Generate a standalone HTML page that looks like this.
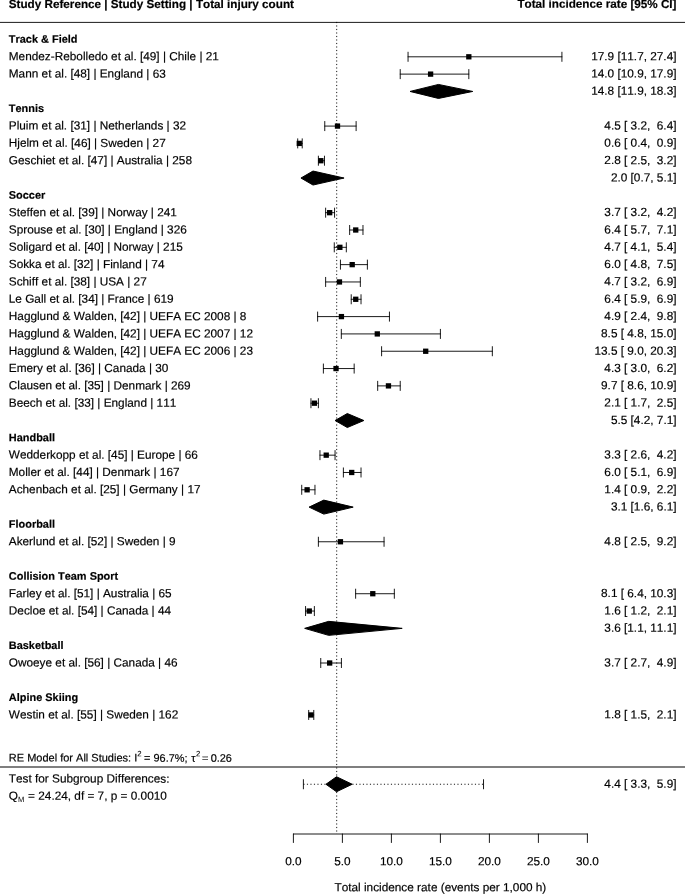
<!DOCTYPE html>
<html><head><meta charset="utf-8"><title>Forest plot</title>
<style>html,body{margin:0;padding:0;background:#fff}svg{display:block}text{font-family:"Liberation Sans",Arial,Helvetica,sans-serif;font-size:11.8px;fill:#000;stroke:#000;stroke-width:.18px;white-space:pre;font-kerning:none}.r{font-size:11.8px}.b{font-weight:bold;font-size:11.7px}.g{font-weight:bold;font-size:10.95px}.r{text-anchor:end}.m{text-anchor:middle}.l{stroke:#000;stroke-width:.9;fill:none;stroke-linecap:round}.dt{stroke-dasharray:1.16 2.34;stroke-linecap:butt}.hl{stroke:#000;stroke-width:1.05;fill:none}.d{stroke:#000;stroke-width:1;stroke-linejoin:round}</style></head><body>
<svg width="685" height="894" viewBox="0 0 685 894">
<rect width="685" height="894" fill="#fff"/>
<text class="b" x="8.8" y="7.9" transform="rotate(.03 8.8 7.9)">Study Reference | Study Setting | Total injury count</text>
<text class="b r" x="676.5" y="7.9" transform="rotate(.03 676.5 7.9)">Total incidence rate [95% CI]</text>
<path class="hl" style="stroke-width:.9" d="M0 22.4H685"/>
<path class="l dt" d="M336.7 21.92V834"/>
<text class="g" x="8.8" y="42.78" transform="rotate(.03 8.8 42.78)">Track &amp; Field</text>
<text x="8.8" y="60.25" transform="rotate(.03 8.8 60.25)">Mendez-Rebolledo et al. [49] | Chile | 21</text>
<text class="r" x="676.5" y="60.25" xml:space="preserve" transform="rotate(.03 676.5 60.25)">17.9 [11.7, 27.4]</text>
<path class="l" d="M408.06 56.8H561.92M408.06 52.2V61.4M561.92 52.2V61.4"/>
<rect x="466.17" y="54.15" width="5.3" height="5.3"/>
<text x="8.8" y="77.57" transform="rotate(.03 8.8 77.57)">Mann et al. [48] | England | 63</text>
<text class="r" x="676.5" y="77.57" xml:space="preserve" transform="rotate(.03 676.5 77.57)">14.0 [10.9, 17.9]</text>
<path class="l" d="M400.22 74.12H468.82M400.22 69.52V78.72M468.82 69.52V78.72"/>
<rect x="427.95" y="71.47" width="5.3" height="5.3"/>
<text class="r" x="676.5" y="94.89" transform="rotate(.03 676.5 94.89)">14.8 [11.9, 18.3]</text>
<path class="d" d="M410.02 91.44L438.44 84.44L472.74 91.44L438.44 98.44Z"/>
<text class="g" x="8.8" y="112.06" transform="rotate(.03 8.8 112.06)">Tennis</text>
<text x="8.8" y="129.53" transform="rotate(.03 8.8 129.53)">Pluim et al. [31] | Netherlands | 32</text>
<text class="r" x="676.5" y="129.53" xml:space="preserve" transform="rotate(.03 676.5 129.53)">4.5 [ 3.2,  6.4]</text>
<path class="l" d="M324.76 126.08H356.12M324.76 121.48V130.68M356.12 121.48V130.68"/>
<rect x="334.85" y="123.43" width="5.3" height="5.3"/>
<text x="8.8" y="146.85" transform="rotate(.03 8.8 146.85)">Hjelm et al. [46] | Sweden | 27</text>
<text class="r" x="676.5" y="146.85" xml:space="preserve" transform="rotate(.03 676.5 146.85)">0.6 [ 0.4,  0.9]</text>
<path class="l" d="M297.71 143.4H302.22M297.71 138.8V148M302.22 138.8V148"/>
<rect x="296.63" y="140.75" width="5.3" height="5.3"/>
<text x="8.8" y="164.17" transform="rotate(.03 8.8 164.17)">Geschiet et al. [47] | Australia | 258</text>
<text class="r" x="676.5" y="164.17" xml:space="preserve" transform="rotate(.03 676.5 164.17)">2.8 [ 2.5,  3.2]</text>
<path class="l" d="M318.39 160.72H324.47M318.39 156.12V165.32M324.47 156.12V165.32"/>
<rect x="318.19" y="158.07" width="5.3" height="5.3"/>
<text class="r" x="676.5" y="181.49" transform="rotate(.03 676.5 181.49)">2.0 [0.7, 5.1]</text>
<path class="d" d="M300.95 178.04L313 171.04L344.07 178.04L313 185.04Z"/>
<text class="g" x="8.8" y="198.66" transform="rotate(.03 8.8 198.66)">Soccer</text>
<text x="8.8" y="216.13" transform="rotate(.03 8.8 216.13)">Steffen et al. [39] | Norway | 241</text>
<text class="r" x="676.5" y="216.13" xml:space="preserve" transform="rotate(.03 676.5 216.13)">3.7 [ 3.2,  4.2]</text>
<path class="l" d="M325.64 212.68H334.56M325.64 208.08V217.28M334.56 208.08V217.28"/>
<rect x="327.01" y="210.03" width="5.3" height="5.3"/>
<text x="8.8" y="233.45" transform="rotate(.03 8.8 233.45)">Sprouse et al. [30] | England | 326</text>
<text class="r" x="676.5" y="233.45" xml:space="preserve" transform="rotate(.03 676.5 233.45)">6.4 [ 5.7,  7.1]</text>
<path class="l" d="M349.65 230H362.98M349.65 225.4V234.6M362.98 225.4V234.6"/>
<rect x="353.08" y="227.35" width="5.3" height="5.3"/>
<text x="8.8" y="250.77" transform="rotate(.03 8.8 250.77)">Soligard et al. [40] | Norway | 215</text>
<text class="r" x="676.5" y="250.77" xml:space="preserve" transform="rotate(.03 676.5 250.77)">4.7 [ 4.1,  5.4]</text>
<path class="l" d="M334.27 247.32H346.32M334.27 242.72V251.92M346.32 242.72V251.92"/>
<rect x="337.2" y="244.67" width="5.3" height="5.3"/>
<text x="8.8" y="268.09" transform="rotate(.03 8.8 268.09)">Sokka et al. [32] | Finland | 74</text>
<text class="r" x="676.5" y="268.09" xml:space="preserve" transform="rotate(.03 676.5 268.09)">6.0 [ 4.8,  7.5]</text>
<path class="l" d="M340.44 264.64H367.39M340.44 260.04V269.24M367.39 260.04V269.24"/>
<rect x="349.55" y="261.99" width="5.3" height="5.3"/>
<text x="8.8" y="285.41" transform="rotate(.03 8.8 285.41)">Schiff et al. [38] | USA | 27</text>
<text class="r" x="676.5" y="285.41" xml:space="preserve" transform="rotate(.03 676.5 285.41)">4.7 [ 3.2,  6.9]</text>
<path class="l" d="M325.64 281.96H360.33M325.64 277.36V286.56M360.33 277.36V286.56"/>
<rect x="336.81" y="279.31" width="5.3" height="5.3"/>
<text x="8.8" y="302.73" transform="rotate(.03 8.8 302.73)">Le Gall et al. [34] | France | 619</text>
<text class="r" x="676.5" y="302.73" xml:space="preserve" transform="rotate(.03 676.5 302.73)">6.4 [ 5.9,  6.9]</text>
<path class="l" d="M351.22 299.28H361.02M351.22 294.68V303.88M361.02 294.68V303.88"/>
<rect x="353.08" y="296.63" width="5.3" height="5.3"/>
<text x="8.8" y="320.05" transform="rotate(.03 8.8 320.05)">Hagglund &amp; Walden, [42] | UEFA EC 2008 | 8</text>
<text class="r" x="676.5" y="320.05" xml:space="preserve" transform="rotate(.03 676.5 320.05)">4.9 [ 2.4,  9.8]</text>
<path class="l" d="M317.61 316.6H389.44M317.61 312V321.2M389.44 312V321.2"/>
<rect x="338.77" y="313.95" width="5.3" height="5.3"/>
<text x="8.8" y="337.37" transform="rotate(.03 8.8 337.37)">Hagglund &amp; Walden, [42] | UEFA EC 2007 | 12</text>
<text class="r" x="676.5" y="337.37" xml:space="preserve" transform="rotate(.03 676.5 337.37)">8.5 [ 4.8, 15.0]</text>
<path class="l" d="M341.32 333.92H440.4M341.32 329.32V338.52M440.4 329.32V338.52"/>
<rect x="374.64" y="331.27" width="5.3" height="5.3"/>
<text x="8.8" y="354.69" transform="rotate(.03 8.8 354.69)">Hagglund &amp; Walden, [42] | UEFA EC 2006 | 23</text>
<text class="r" x="676.5" y="354.69" xml:space="preserve" transform="rotate(.03 676.5 354.69)">13.5 [ 9.0, 20.3]</text>
<path class="l" d="M381.6 351.24H492.34M381.6 346.64V355.84M492.34 346.64V355.84"/>
<rect x="423.05" y="348.59" width="5.3" height="5.3"/>
<text x="8.8" y="372.01" transform="rotate(.03 8.8 372.01)">Emery et al. [36] | Canada | 30</text>
<text class="r" x="676.5" y="372.01" xml:space="preserve" transform="rotate(.03 676.5 372.01)">4.3 [ 3.0,  6.2]</text>
<path class="l" d="M323.39 368.56H354.16M323.39 363.96V373.16M354.16 363.96V373.16"/>
<rect x="333.38" y="365.91" width="5.3" height="5.3"/>
<text x="8.8" y="389.33" transform="rotate(.03 8.8 389.33)">Clausen et al. [35] | Denmark | 269</text>
<text class="r" x="676.5" y="389.33" xml:space="preserve" transform="rotate(.03 676.5 389.33)">9.7 [ 8.6, 10.9]</text>
<path class="l" d="M377.68 385.88H400.22M377.68 381.28V390.48M400.22 381.28V390.48"/>
<rect x="385.81" y="383.23" width="5.3" height="5.3"/>
<text x="8.8" y="406.65" transform="rotate(.03 8.8 406.65)">Beech et al. [33] | England | 111</text>
<text class="r" x="676.5" y="406.65" xml:space="preserve" transform="rotate(.03 676.5 406.65)">2.1 [ 1.7,  2.5]</text>
<path class="l" d="M310.94 403.2H318.39M310.94 398.6V407.8M318.39 398.6V407.8"/>
<rect x="311.72" y="400.55" width="5.3" height="5.3"/>
<text class="r" x="676.5" y="423.97" transform="rotate(.03 676.5 423.97)">5.5 [4.2, 7.1]</text>
<path class="d" d="M335.05 420.52L347.3 413.52L363.86 420.52L347.3 427.52Z"/>
<text class="g" x="8.8" y="441.14" transform="rotate(.03 8.8 441.14)">Handball</text>
<text x="8.8" y="458.61" transform="rotate(.03 8.8 458.61)">Wedderkopp et al. [45] | Europe | 66</text>
<text class="r" x="676.5" y="458.61" xml:space="preserve" transform="rotate(.03 676.5 458.61)">3.3 [ 2.6,  4.2]</text>
<path class="l" d="M319.96 455.16H335.05M319.96 450.56V459.76M335.05 450.56V459.76"/>
<rect x="323.58" y="452.51" width="5.3" height="5.3"/>
<text x="8.8" y="475.93" transform="rotate(.03 8.8 475.93)">Moller et al. [44] | Denmark | 167</text>
<text class="r" x="676.5" y="475.93" xml:space="preserve" transform="rotate(.03 676.5 475.93)">6.0 [ 5.1,  6.9]</text>
<path class="l" d="M343.38 472.48H361.02M343.38 467.88V477.08M361.02 467.88V477.08"/>
<rect x="349.06" y="469.83" width="5.3" height="5.3"/>
<text x="8.8" y="493.25" transform="rotate(.03 8.8 493.25)">Achenbach et al. [25] | Germany | 17</text>
<text class="r" x="676.5" y="493.25" xml:space="preserve" transform="rotate(.03 676.5 493.25)">1.4 [ 0.9,  2.2]</text>
<path class="l" d="M301.73 489.8H314.96M301.73 485.2V494.4M314.96 485.2V494.4"/>
<rect x="304.47" y="487.15" width="5.3" height="5.3"/>
<text class="r" x="676.5" y="510.57" transform="rotate(.03 676.5 510.57)">3.1 [1.6, 6.1]</text>
<path class="d" d="M309.08 507.12L323.78 500.12L353.18 507.12L323.78 514.12Z"/>
<text class="g" x="8.8" y="527.74" transform="rotate(.03 8.8 527.74)">Floorball</text>
<text x="8.8" y="545.21" transform="rotate(.03 8.8 545.21)">Akerlund et al. [52] | Sweden | 9</text>
<text class="r" x="676.5" y="545.21" xml:space="preserve" transform="rotate(.03 676.5 545.21)">4.8 [ 2.5,  9.2]</text>
<path class="l" d="M318.39 541.76H384.05M318.39 537.16V546.36M384.05 537.16V546.36"/>
<rect x="337.79" y="539.11" width="5.3" height="5.3"/>
<text class="g" x="8.8" y="579.7" transform="rotate(.03 8.8 579.7)">Collision Team Sport</text>
<text x="8.8" y="597.17" transform="rotate(.03 8.8 597.17)">Farley et al. [51] | Australia | 65</text>
<text class="r" x="676.5" y="597.17" xml:space="preserve" transform="rotate(.03 676.5 597.17)">8.1 [ 6.4, 10.3]</text>
<path class="l" d="M355.63 593.72H394.34M355.63 589.12V598.32M394.34 589.12V598.32"/>
<rect x="370.13" y="591.07" width="5.3" height="5.3"/>
<text x="8.8" y="614.49" transform="rotate(.03 8.8 614.49)">Decloe et al. [54] | Canada | 44</text>
<text class="r" x="676.5" y="614.49" xml:space="preserve" transform="rotate(.03 676.5 614.49)">1.6 [ 1.2,  2.1]</text>
<path class="l" d="M305.55 611.04H314.37M305.55 606.44V615.64M314.37 606.44V615.64"/>
<rect x="306.63" y="608.39" width="5.3" height="5.3"/>
<text class="r" x="676.5" y="631.81" transform="rotate(.03 676.5 631.81)">3.6 [1.1, 11.1]</text>
<path class="d" d="M304.67 628.36L328.68 621.36L402.18 628.36L328.68 635.36Z"/>
<text class="g" x="8.8" y="648.98" transform="rotate(.03 8.8 648.98)">Basketball</text>
<text x="8.8" y="666.45" transform="rotate(.03 8.8 666.45)">Owoeye et al. [56] | Canada | 46</text>
<text class="r" x="676.5" y="666.45" xml:space="preserve" transform="rotate(.03 676.5 666.45)">3.7 [ 2.7,  4.9]</text>
<path class="l" d="M320.74 663H341.42M320.74 658.4V667.6M341.42 658.4V667.6"/>
<rect x="327.01" y="660.35" width="5.3" height="5.3"/>
<text class="g" x="8.8" y="700.94" transform="rotate(.03 8.8 700.94)">Alpine Skiing</text>
<text x="8.8" y="718.41" transform="rotate(.03 8.8 718.41)">Westin et al. [55] | Sweden | 162</text>
<text class="r" x="676.5" y="718.41" xml:space="preserve" transform="rotate(.03 676.5 718.41)">1.8 [ 1.5,  2.1]</text>
<path class="l" d="M308.69 714.96H313.78M308.69 710.36V719.56M313.78 710.36V719.56"/>
<rect x="308.39" y="712.31" width="5.3" height="5.3"/>
<text x="8.8" y="761.55" style="font-size:11px" transform="rotate(.03 8.8 761.55)">RE Model for All Studies: I<tspan x="137.2" y="756.1" style="font-size:7.8px;stroke-width:.08px">2</tspan><tspan x="144.1" y="761.55" style="font-size:10.93px">= 96.7%; </tspan><tspan x="191.3" style="font-size:10.93px">τ</tspan><tspan x="195.9" y="756.1" style="font-size:7.8px;stroke-width:.08px">2</tspan><tspan x="202.1" y="761.55" fill="#aaa" style="font-size:10.93px">=</tspan><tspan x="210.7" style="font-size:10.93px">0.26</tspan></text>
<path class="hl" d="M0 766.95H685"/>
<text x="8.8" y="782.55" transform="rotate(.03 8.8 782.55)">Test for Subgroup Differences:</text>
<text x="8.8" y="799.7" transform="rotate(.03 8.8 799.7)">Q<tspan dy="2.3" style="font-size:7.6px;stroke:none">M</tspan><tspan dy="-2.3" dx=".5"> = 24.24, df = 7, p = 0.0010</tspan></text>
<path class="l dt" d="M303.4 784.25H483.52"/>
<path class="l" d="M303.4 779.65V788.85M483.52 779.65V788.85"/>
<path class="d" d="M325.94 784.25L336.52 776.75L352.2 784.25L336.52 791.75Z"/>
<text class="r" x="676.5" y="787.7" xml:space="preserve" transform="rotate(.03 676.5 787.7)">4.4 [ 3.3,  5.9]</text>
<path class="l" d="M293.4 834H587.4M293.4 834V842.5M342.4 834V842.5M391.4 834V842.5M440.4 834V842.5M489.4 834V842.5M538.4 834V842.5M587.4 834V842.5"/>
<text class="m" x="293.4" y="865.3" transform="rotate(.03 293.4 865.3)">0.0</text>
<text class="m" x="342.4" y="865.3" transform="rotate(.03 342.4 865.3)">5.0</text>
<text class="m" x="391.4" y="865.3" transform="rotate(.03 391.4 865.3)">10.0</text>
<text class="m" x="440.4" y="865.3" transform="rotate(.03 440.4 865.3)">15.0</text>
<text class="m" x="489.4" y="865.3" transform="rotate(.03 489.4 865.3)">20.0</text>
<text class="m" x="538.4" y="865.3" transform="rotate(.03 538.4 865.3)">25.0</text>
<text class="m" x="587.4" y="865.3" transform="rotate(.03 587.4 865.3)">30.0</text>
<text class="m" x="440.4" y="891.3" transform="rotate(.03 440.4 891.3)">Total incidence rate (events per 1,000 h)</text>
</svg></body></html>
